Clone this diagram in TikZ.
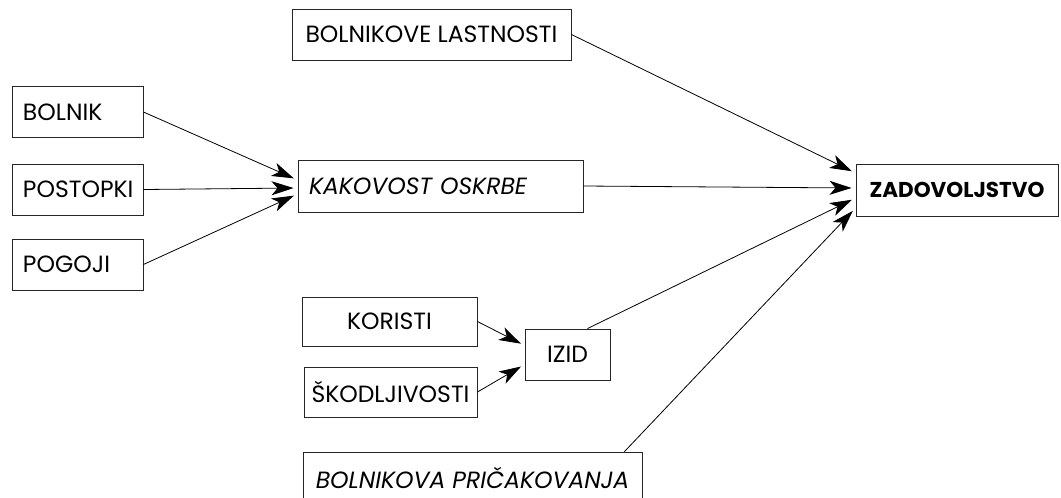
\documentclass[tikz,border=0pt]{standalone}
\usepackage{fontspec}
\setmainfont{Poppins}
\usetikzlibrary{arrows.meta}
\tikzset{
  box/.style={draw=black!85, line width=0.9pt, rectangle, inner sep=0pt,
              font=\fontsize{23.5}{27}\selectfont},
  leftbox/.style={box, inner xsep=11pt, align=left, minimum height=51pt},
  conn/.style={line width=0.8pt, -{Stealth[length=22pt, width=14pt, inset=6pt]}, shorten >=4pt},
}
\begin{document}
\begin{tikzpicture}[x=1pt, y=-1pt]
\useasboundingbox (0,0) rectangle (1061,498);
\clip (0,0) rectangle (1061,498);

% input factors
\node[leftbox, text width=109pt] (bolnik)   at (77.5,112)   {BOLNIK};
\node[leftbox, text width=109pt] (postopki) at (77.5,189.5) {POSTOPKI};
\node[leftbox, text width=109pt] (pogoji)   at (77.5,264.5) {POGOJI};

% quality of care
\node[leftbox, text width=263pt, minimum height=52pt] (kak) at (440.5,186) {\itshape KAKOVOST OSKRBE};

% patient properties
\node[box, minimum width=279pt, minimum height=51pt] (blast) at (431.5,34.5) {BOLNIKOVE LASTNOSTI};

% outcome block
\node[box, minimum width=175pt, minimum height=49pt] (koristi) at (389.5,321.5) {KORISTI};
\node[box, minimum width=173pt, minimum height=50pt] (skod)    at (390.5,392)   {ŠKODLJIVOSTI};
\node[box, minimum width=85pt,  minimum height=51pt] (izid)    at (567.5,354.5) {IZID};

% expectations
\node[box, minimum width=339pt, minimum height=51pt] (pric) at (472.5,477.5) {\itshape BOLNIKOVA PRIČAKOVANJA};

% result
\node[box, minimum width=202pt, minimum height=52pt, font=\fontsize{21.5}{25}\selectfont\bfseries] (zad) at (957,190) {ZADOVOLJSTVO};

% connectors into quality of care
\draw[conn] (bolnik.east)   -- ([yshift=6pt]kak.west);
\draw[conn] (postopki.east) -- ([yshift=-2pt]kak.west);
\draw[conn] (pogoji.east)   -- ([yshift=-8pt]kak.west);

% connectors into outcome
\draw[conn] (koristi.east) -- ([yshift=9pt]izid.west);
\draw[conn] (skod.east)    -- ([yshift=-10pt]izid.west);

% connectors into satisfaction
\draw[conn] (blast.east)              -- ([yshift=17pt]zad.west);
\draw[conn] (kak.east)                -- ([yshift=2pt]zad.west);
\draw[conn] ([xshift=20pt]izid.north) -- ([yshift=-8pt]zad.west);
\draw[conn] ([xshift=152pt]pric.north) -- ([yshift=-18pt]zad.west);
\end{tikzpicture}
\end{document}
